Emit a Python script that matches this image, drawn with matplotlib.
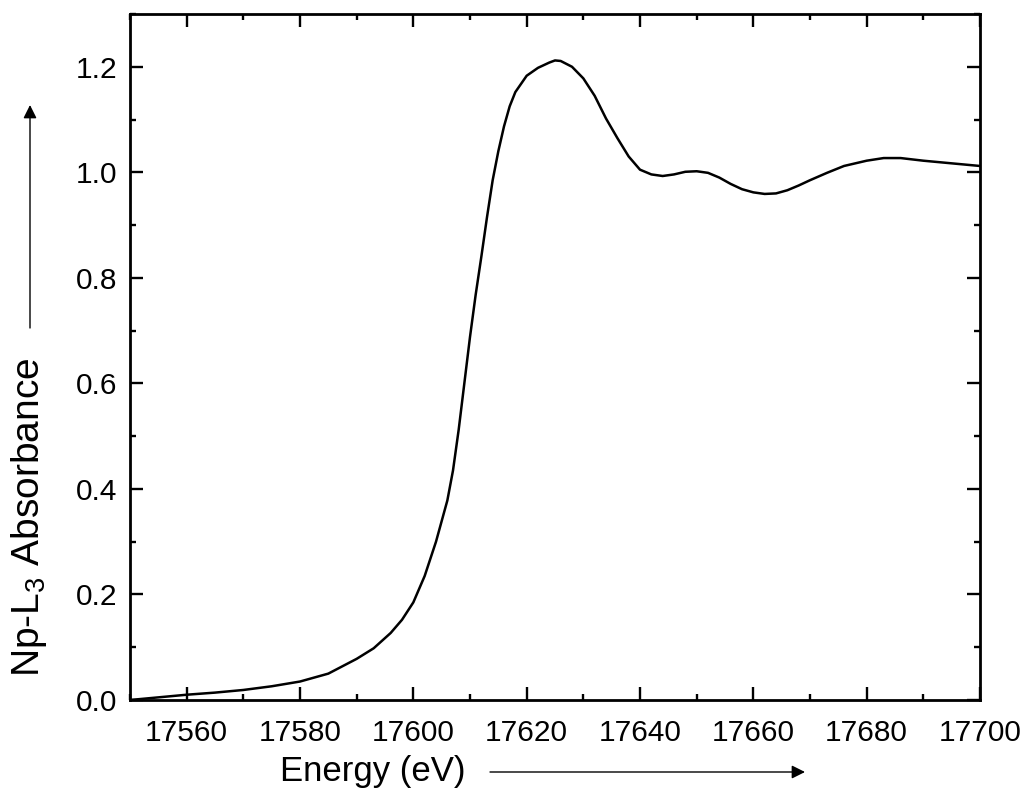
import numpy as np
import matplotlib
matplotlib.use('Agg')
import matplotlib.pyplot as plt

plt.rcParams['font.family'] = ['Liberation Sans', 'DejaVu Sans']
plt.rcParams['mathtext.fontset'] = 'custom'
plt.rcParams['mathtext.rm'] = 'Liberation Sans'

# energy (eV) and normalised absorbance
energy = np.array([17550, 17555, 17560, 17565, 17570, 17575, 17580, 17585, 17590, 17593,
                   17596, 17598, 17600, 17602, 17604, 17606, 17607, 17608, 17609, 17610,
                   17611, 17612, 17613, 17614, 17615, 17616, 17617, 17618, 17620, 17622,
                   17624, 17625, 17626, 17628, 17630, 17632, 17634, 17636, 17638, 17640,
                   17642, 17644, 17646, 17648, 17650, 17652, 17654, 17656, 17658, 17660,
                   17662, 17664, 17666, 17668, 17670, 17673, 17676, 17680, 17683, 17686,
                   17690, 17695, 17700])
absorb = np.array([0.000, 0.005, 0.010, 0.014, 0.019, 0.026, 0.035, 0.050, 0.078, 0.098,
                   0.127, 0.152, 0.185, 0.235, 0.300, 0.378, 0.435, 0.512, 0.600, 0.688,
                   0.768, 0.840, 0.915, 0.985, 1.040, 1.087, 1.125, 1.152, 1.183, 1.198,
                   1.208, 1.212, 1.211, 1.200, 1.178, 1.145, 1.102, 1.065, 1.030, 1.005,
                   0.996, 0.993, 0.996, 1.001, 1.002, 0.999, 0.990, 0.978, 0.968, 0.962,
                   0.959, 0.960, 0.966, 0.975, 0.985, 0.999, 1.012, 1.022, 1.027, 1.027,
                   1.022, 1.017, 1.012])

W, H = 1026, 794
fig = plt.figure(figsize=(W / 100, H / 100), dpi=100)
ax = fig.add_axes([130 / W, 1 - 700 / H, 850 / W, 686 / H])

ax.plot(energy, absorb, 'k-', lw=1.8)
ax.set_xlim(17550, 17700)
ax.set_ylim(0, 1.3)
ax.set_xticks(np.arange(17560, 17701, 20))
ax.set_xticks(np.arange(17550, 17701, 10), minor=True)
ax.set_yticks(np.arange(0, 1.21, 0.2))
ax.set_yticks(np.arange(0, 1.31, 0.1), minor=True)
ax.set_yticklabels(['%.1f' % v for v in np.arange(0, 1.21, 0.2)])

for s in ax.spines.values():
    s.set_linewidth(2)
ax.tick_params(which='both', direction='in', top=True, right=True, width=1.7, labelsize=21.5)
ax.tick_params(which='major', length=9.5)
ax.tick_params(which='minor', length=4.5)
ax.tick_params(axis='x', pad=14)
ax.tick_params(axis='y', pad=9)

# labels with arrows, as in the original
fig.text(280 / W, 1 - 772 / H, 'Energy (eV)', fontsize=25, ha='left', va='center')
fig.text(29 / W, 1 - 517 / H, r'Np-L$_\mathregular{3}$ Absorbance', fontsize=28,
         rotation=90, ha='center', va='center')
ax.annotate('', xy=(805 / W, 1 - 772 / H), xytext=(490 / W, 1 - 772 / H),
            xycoords='figure fraction', textcoords='figure fraction',
            arrowprops=dict(arrowstyle='-|>', color='k', lw=1, mutation_scale=20,
                            shrinkA=0, shrinkB=0))
ax.annotate('', xy=(30 / W, 1 - 105 / H), xytext=(30 / W, 1 - 328 / H),
            xycoords='figure fraction', textcoords='figure fraction',
            arrowprops=dict(arrowstyle='-|>', color='k', lw=1, mutation_scale=20,
                            shrinkA=0, shrinkB=0))

fig.savefig('out.png', dpi=100)
